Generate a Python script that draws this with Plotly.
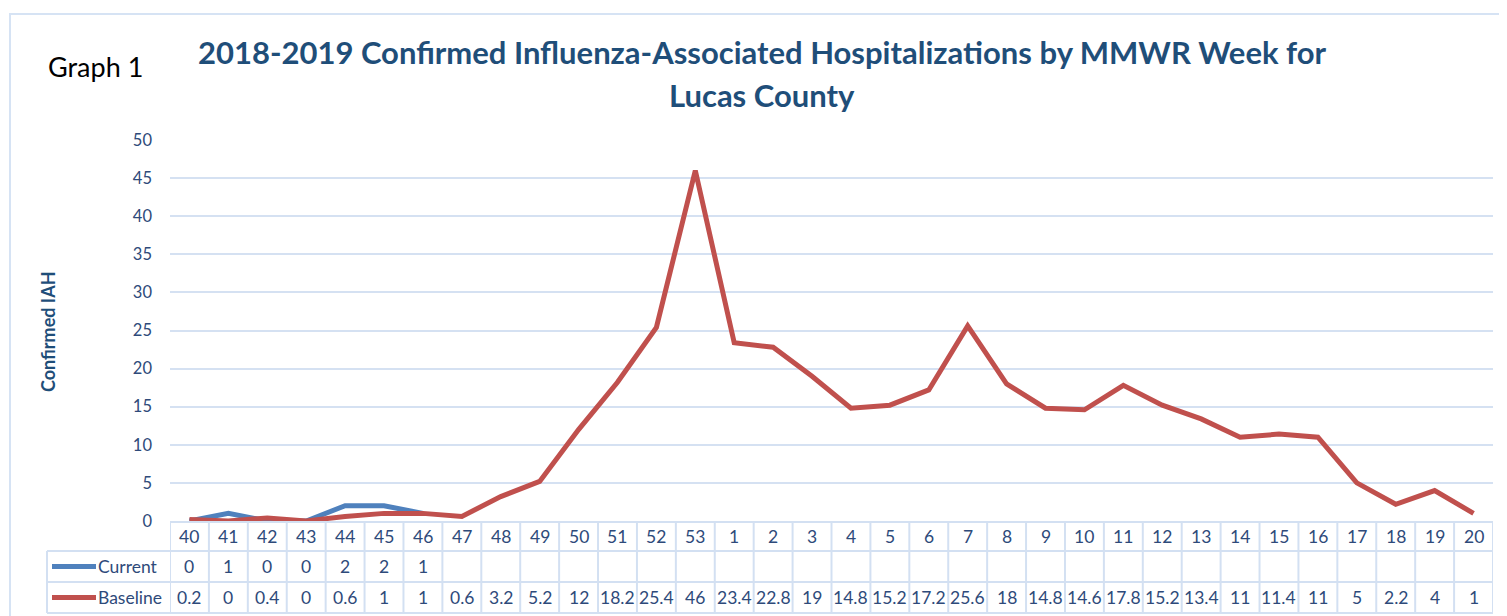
import plotly.graph_objects as go

weeks = ["40", "41", "42", "43", "44", "45", "46", "47", "48", "49", "50", "51", "52", "53",
         "1", "2", "3", "4", "5", "6", "7", "8", "9", "10", "11", "12", "13", "14", "15", "16",
         "17", "18", "19", "20"]
current = [0, 1, 0, 0, 2, 2, 1]
baseline = [0.2, 0, 0.4, 0, 0.6, 1, 1, 0.6, 3.2, 5.2, 12, 18.2, 25.4, 46, 23.4, 22.8, 19,
            14.8, 15.2, 17.2, 25.6, 18, 14.8, 14.6, 17.8, 15.2, 13.4, 11, 11.4, 11, 5, 2.2, 4, 1]
y_ticks = [0, 5, 10, 15, 20, 25, 30, 35, 40, 45, 50]

OFF = 8  # page body margin
W, H = 1507 - OFF, 616 - OFF
def px(x):
    return (x - OFF) / W
def py(y):
    return 1 - (y - OFF) / H

BLUE = "#4F81BD"
RED = "#C0504D"
TXT = "#2E4A7A"
GRID = "#D5E1F2"
TABLE = "#D3E0F2"
FONT = "Lato"
CELL_SIZE = 17.5

n = len(weeks)
idx = list(range(n))

fig = go.Figure()
fig.add_trace(go.Scatter(x=idx[:len(current)], y=current, mode="lines", name="Current",
                         line=dict(color=BLUE, width=5), showlegend=False))
fig.add_trace(go.Scatter(x=idx, y=baseline, mode="lines", name="Baseline",
                         line=dict(color=RED, width=5), showlegend=False))

hdr_top, r1, r2, r3 = 522, 551, 582, 613
leg_left = 47

shapes = []
ann = []
shapes.append(dict(type="line", xref="x", yref="paper", x0=-0.5, x1=n - 0.5,
                   y0=py(hdr_top), y1=py(hdr_top), line=dict(color=TABLE, width=2)))
for yy in (r1, r2, r3):
    shapes.append(dict(type="line", xref="paper", yref="paper", x0=px(leg_left), x1=px(1493),
                       y0=py(yy), y1=py(yy), line=dict(color=TABLE, width=2)))
for i in range(n + 1):
    shapes.append(dict(type="line", xref="x", yref="paper", x0=i - 0.5, x1=i - 0.5,
                       y0=py(hdr_top), y1=py(r3), line=dict(color=TABLE, width=2)))
shapes.append(dict(type="line", xref="paper", yref="paper", x0=px(leg_left), x1=px(leg_left),
                   y0=py(r1), y1=py(r3), line=dict(color=TABLE, width=2)))

def cy(a, b):
    return py((a + b) / 2)

def cell(i, yv, text):
    return dict(x=i, y=yv, xref="x", yref="paper", text=text, showarrow=False,
                xanchor="center", yanchor="middle",
                font=dict(family=FONT, size=CELL_SIZE, color=TXT))

for i, w in enumerate(weeks):
    ann.append(cell(i, cy(hdr_top, r1), w))
for i, v in enumerate(current):
    ann.append(cell(i, cy(r1, r2), f"{v:g}"))
for i, v in enumerate(baseline):
    ann.append(cell(i, cy(r2, r3), f"{v:g}"))

for (a, b, col, name) in ((r1, r2, BLUE, "Current"), (r2, r3, RED, "Baseline")):
    shapes.append(dict(type="line", xref="paper", yref="paper", x0=px(52), x1=px(96),
                       y0=cy(a, b), y1=cy(a, b), line=dict(color=col, width=5)))
    ann.append(dict(x=px(96), y=cy(a, b), xref="paper", yref="paper", text=name, showarrow=False,
                    xanchor="left", yanchor="middle",
                    font=dict(family=FONT, size=CELL_SIZE, color=TXT)))

# outer border
shapes.append(dict(type="rect", xref="paper", yref="paper", x0=px(10), x1=px(1530),
                   y0=py(660), y1=py(14), line=dict(color="#D6E3F4", width=2)))

title_font = dict(family=FONT, size=31, color="#1F4E79")
ann.append(dict(x=px(762), y=py(52), xref="paper", yref="paper", showarrow=False,
                xanchor="center", yanchor="middle",
                text="<b>2018-2019 Confirmed Influenza-Associated Hospitalizations by MMWR Week for</b>",
                font=title_font))
ann.append(dict(x=px(762), y=py(95), xref="paper", yref="paper", showarrow=False,
                xanchor="center", yanchor="middle", text="<b>Lucas County</b>", font=title_font))
ann.append(dict(x=px(46), y=py(67), xref="paper", yref="paper", showarrow=False,
                xanchor="left", yanchor="middle",
                text="Graph 1", font=dict(family=FONT, size=27, color="#000000")))
ann.append(dict(x=px(48), y=py(332), xref="paper", yref="paper", showarrow=False, textangle=-90,
                xanchor="center", yanchor="middle",
                text="<b>Confirmed IAH</b>", font=dict(family=FONT, size=18, color="#1F4E79")))

fig.update_layout(
    template="none",
    width=W, height=H, autosize=False,
    margin=dict(l=0, r=0, t=0, b=0, pad=0),
    paper_bgcolor="white", plot_bgcolor="white",
    shapes=shapes, annotations=ann,
    xaxis=dict(domain=[px(170), px(1493)], range=[-0.5, n - 0.5], showticklabels=False,
               showgrid=False, zeroline=False, showline=False, ticks="", automargin=False),
    yaxis=dict(domain=[py(521), py(140)], range=[0, 50], tickvals=y_ticks,
               showgrid=True, gridcolor=GRID, gridwidth=2, zeroline=False, showline=False,
               ticks="", ticklabelstandoff=17, automargin=False,
               tickfont=dict(family=FONT, size=16.5, color=TXT)),
)

fig.write_html("out.html")
